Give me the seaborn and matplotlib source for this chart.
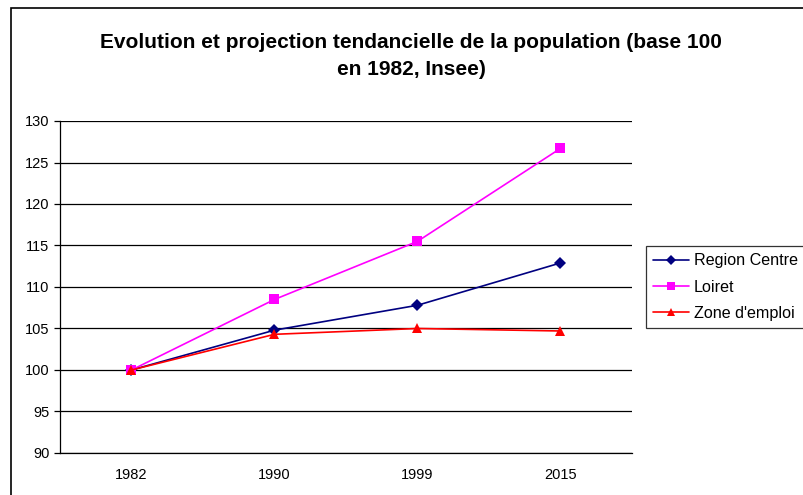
import pandas as pd
import numpy as np
import matplotlib
matplotlib.use("Agg")
import matplotlib.pyplot as plt
import seaborn as sns
from matplotlib.patches import Rectangle
from matplotlib.ticker import FixedLocator

years = ["1982", "1990", "1999", "2015"]
region_centre = [100.0, 104.8, 107.8, 112.9]
loiret = [100.0, 108.5, 115.5, 126.7]
zone_emploi = [100.0, 104.3, 105.0, 104.7]
series_names = ["Region Centre", "Loiret", "Zone d'emploi"]

df = pd.DataFrame({
    "Année": years * 3,
    "Indice": region_centre + loiret + zone_emploi,
    "Série": sum([[n] * len(years) for n in series_names], []),
})

sns.set_style("white")
plt.rcParams["font.family"] = ["Liberation Sans", "DejaVu Sans"]
plt.rcParams["text.color"] = "black"
plt.rcParams["xtick.color"] = "black"
plt.rcParams["ytick.color"] = "black"
plt.rcParams["axes.labelcolor"] = "black"

fig = plt.figure(figsize=(8.04, 4.95), dpi=100)
ax = fig.add_axes([60 / 804, 1 - 453 / 495, 572 / 804, 332 / 495])

palette = {"Region Centre": "#000080", "Loiret": "#FF00FF", "Zone d'emploi": "#FF0000"}
markers = {"Region Centre": "D", "Loiret": "s", "Zone d'emploi": "^"}
sns.lineplot(
    data=df, x="Année", y="Indice", hue="Série", style="Série",
    palette=palette, markers=markers, dashes=False, sort=False,
    linewidth=1.2, markersize=6.5, markeredgewidth=0, ax=ax,
)

ax.set_xlim(-0.5, len(years) - 0.5)
ax.set_ylim(90, 130)
ax.set_yticks(np.arange(90, 131, 5))
ax.yaxis.grid(True, color="black", linewidth=0.9)
ax.set_axisbelow(True)
ax.set_xlabel("")
ax.set_ylabel("")

# excel-style ticks between categories
ax.xaxis.set_minor_locator(FixedLocator(np.arange(-0.5, len(years), 1.0)))
ax.tick_params(axis="x", which="major", length=0, pad=11, labelsize=10.5)
ax.tick_params(axis="x", which="minor", length=4, width=0.9, direction="out", color="black")
ax.tick_params(axis="y", length=4, width=0.9, direction="out", color="black", labelsize=10.5, left=True)

for s in ["top", "right"]:
    ax.spines[s].set_visible(False)
for s in ["left", "bottom"]:
    ax.spines[s].set_color("black")
    ax.spines[s].set_linewidth(0.9)

leg = ax.legend(
    loc="upper left", bbox_to_anchor=(646 / 804, 1 - 246 / 495),
    bbox_transform=fig.transFigure, frameon=True, fancybox=False,
    edgecolor="black", fontsize=11.6, handlelength=2.2,
    borderpad=0.45, labelspacing=0.7, handletextpad=0.3, borderaxespad=0,
    markerscale=0.85,
)
leg.get_frame().set_linewidth(0.9)

fig.text(411 / 804, 1 - 56 / 495,
         "Evolution et projection tendancielle de la population (base 100\nen 1982, Insee)",
         ha="center", va="center", fontsize=15, fontweight="bold", linespacing=1.5,
         color="black")

fig.patches.append(Rectangle((11 / 804, -0.1), 1.0, 1 - 8 / 495 + 0.1,
                             transform=fig.transFigure, fill=False,
                             edgecolor="black", linewidth=1.2))

fig.savefig("out.png", dpi=100)
